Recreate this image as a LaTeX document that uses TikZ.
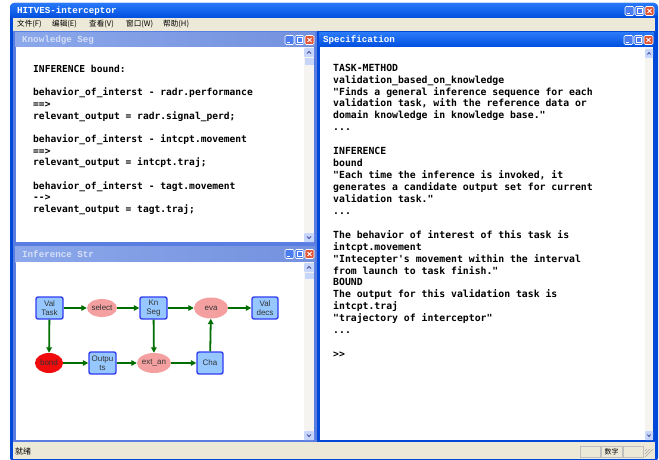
\documentclass[tikz,border=0pt]{standalone}
\usepackage{fontspec}
\setmonofont{DejaVu Sans Mono}
\newfontfamily\titlefont{Liberation Mono}
\newfontfamily\cjk{Noto Sans CJK SC}
\newfontfamily\diagfont{Liberation Sans}
\usetikzlibrary{shapes.geometric,arrows.meta}
\definecolor{xpframe}{RGB}{0,72,215}
\definecolor{titletop}{RGB}{40,120,248}
\definecolor{titlebot}{RGB}{0,78,222}
\definecolor{inactframe}{RGB}{90,125,225}
\definecolor{inacttop}{RGB}{140,168,235}
\definecolor{inactbot}{RGB}{115,145,222}
\definecolor{inacttext}{RGB}{214,224,246}
\definecolor{beige}{RGB}{236,233,216}
\definecolor{scrollbg}{RGB}{245,244,240}
\definecolor{scrollbtn}{RGB}{198,213,250}
\definecolor{boxfill}{RGB}{150,200,255}
\definecolor{boxdraw}{RGB}{50,60,240}
\definecolor{pinkfill}{RGB}{245,160,160}
\definecolor{redfill}{RGB}{240,12,12}
\definecolor{arrowgreen}{RGB}{0,110,0}
\definecolor{closered}{RGB}{225,85,55}
\definecolor{btnblue}{RGB}{75,125,238}
\newcommand\xpbuttons[2]{%
  \draw[white, line width=0.6pt, fill=btnblue, rounded corners=1.2pt] (#1-29,#2-4.5) rectangle (#1-20,#2+4.5);
  \draw[white, line width=1.2pt] (#1-27.5,#2+2.5) -- (#1-24.5,#2+2.5);
  \draw[white, line width=0.6pt, fill=btnblue, rounded corners=1.2pt] (#1-19,#2-4.5) rectangle (#1-10,#2+4.5);
  \draw[white, line width=0.7pt] (#1-17,#2-2.5) rectangle (#1-12,#2+2.5);
  \draw[white, line width=0.6pt, fill=closered, rounded corners=1.2pt] (#1-9,#2-4.5) rectangle (#1,#2+4.5);
  \draw[white, line width=0.9pt] (#1-6.5,#2-2) -- (#1-2.5,#2+2) (#1-6.5,#2+2) -- (#1-2.5,#2-2);
}
\newcommand\scrollup[3]{% x left, y top, width
  \fill[scrollbtn, rounded corners=1pt] (#1,#2) rectangle (#1+#3,#2+9);
  \draw[blue!50!black!70, line width=0.8pt] (#1+0.3*#3,#2+5.5) -- (#1+0.5*#3,#2+3.5) -- (#1+0.7*#3,#2+5.5);
}
\newcommand\scrolldown[3]{% x left, y bottom, width
  \fill[scrollbtn, rounded corners=1pt] (#1,#2-9) rectangle (#1+#3,#2);
  \draw[blue!50!black!70, line width=0.8pt] (#1+0.3*#3,#2-5.5) -- (#1+0.5*#3,#2-3.5) -- (#1+0.7*#3,#2-5.5);
}
\tikzset{
  codetext/.style={anchor=base west, inner sep=0pt, font=\fontsize{9.8}{11}\selectfont\ttfamily\bfseries},
  wintitle/.style={anchor=west, inner sep=0pt, font=\fontsize{9.2}{11}\selectfont\titlefont\bfseries},
  menutext/.style={anchor=west, inner sep=0pt, font=\fontsize{7.6}{9}\selectfont\cjk},
  procbox/.style={draw=boxdraw, line width=1.4pt, fill=boxfill, rounded corners=2pt,
    minimum width=27pt, minimum height=22pt, inner sep=0.5pt, align=center,
    font=\fontsize{8}{8.6}\selectfont\diagfont, text=black!80},
  infell/.style={ellipse, fill=pinkfill, inner sep=0pt,
    font=\fontsize{8}{8.6}\selectfont\diagfont, text=black!80},
  flow/.style={draw=arrowgreen, line width=1.8pt, -{Triangle[length=5.5pt,width=5.5pt]}}
}
\begin{document}
\begin{tikzpicture}[x=1pt,y=-1pt]
\useasboundingbox (0,0) rectangle (659,460);
\fill[white] (0,0) rectangle (659,460);
% main window
\fill[xpframe, rounded corners=4pt] (10,3) rectangle (658,462);
\shade[top color=titletop, bottom color=titlebot, rounded corners=4pt] (10,3) rectangle (658,18);
\node[wintitle, text=white] (maintitle) at (17,11) {HITVES-interceptor};
\xpbuttons{654}{11}
% menu bar
\fill[beige] (13,18) rectangle (655,31);
\node[menutext] (m1) at (17,24.5) {文件(F)};
\node[menutext] (m2) at (52,24.5) {编辑(E)};
\node[menutext] (m3) at (89,24.5) {查看(V)};
\node[menutext] (m4) at (126,24.5) {窗口(W)};
\node[menutext] (m5) at (163,24.5) {帮助(H)};
% status bar
\fill[beige] (13,442) rectangle (655,458.5);
\node[menutext, font=\fontsize{8}{9}\selectfont\cjk] (status) at (15,451) {就绪};
\draw[black!25] (580,446) rectangle (600,457);
\draw[black!25] (601,446) rectangle (622,457);
\draw[black!25] (623,446) rectangle (643,457);
\node[menutext, anchor=center, font=\fontsize{7}{8}\selectfont\cjk] (numlock) at (611.5,451.5) {数字};
\foreach \k in {0,3,6} \draw[black!35, line width=0.6pt] (653-\k,449) -- (645,457-\k);
% Knowledge Seg window
\fill[inactframe] (13,31) rectangle (317,244);
\shade[left color=inacttop, right color=inactbot] (15,33) rectangle (315,47);
\node[wintitle, text=inacttext] (kstitle) at (22,40) {Knowledge Seg};
\xpbuttons{314}{40}
\fill[white] (16,47) rectangle (304,242);
\fill[scrollbg] (304,47) rectangle (314,242);
\scrollup{304}{48}{10}
\fill[scrollbtn] (304.5,58) rectangle (313.5,65);
\scrolldown{304}{242}{10}
\foreach \n/\t in {0/{INFERENCE bound:},
  2/{behavior\_of\_interst - radr.performance}, 3/{==>}, 4/{relevant\_output = radr.signal\_perd;},
  6/{behavior\_of\_interst - intcpt.movement}, 7/{==>}, 8/{relevant\_output = intcpt.traj;},
  10/{behavior\_of\_interst - tagt.movement}, 11/{-->}, 12/{relevant\_output = tagt.traj;}}
  \node[codetext, font=\fontsize{9.6}{11}\selectfont\ttfamily\bfseries] (kn-\n) at (33,72.5+11.67*\n) {\t};
% Specification window
\fill[xpframe] (317,31) rectangle (656,442);
\shade[top color=titletop, bottom color=titlebot] (319,33) rectangle (654,47);
\node[wintitle, text=white] (sptitle) at (323,40) {Specification};
\xpbuttons{653}{40}
\fill[white] (320,47) rectangle (645,440);
\fill[scrollbg] (645,47) rectangle (653,440);
\scrollup{645}{49}{8}
\scrolldown{645}{440}{8}
\foreach \n/\t in {0/{TASK-METHOD}, 1/{validation\_based\_on\_knowledge},
  2/{"Finds a general inference sequence for each},
  3/{validation task, with the reference data or},
  4/{domain knowledge in knowledge base."}, 5/{...},
  7/{INFERENCE}, 8/{bound}, 9/{"Each time the inference is invoked, it},
  10/{generates a candidate output set for current}, 11/{validation task."}, 12/{...},
  14/{The behavior of interest of this task is}, 15/{intcpt.movement},
  16/{"Intecepter's movement within the interval}, 17/{from launch to task finish."},
  18/{BOUND}, 19/{The output for this validation task is}, 20/{intcpt.traj},
  21/{"trajectory of interceptor"}, 22/{...}, 24/{>>}}
  \node[codetext] (sp-\n) at (333,71.2+11.93*\n) {\t};
% Inference Str window
\fill[inactframe] (13,244) rectangle (317,442);
\shade[left color=inacttop, right color=inactbot] (15,246) rectangle (315,262);
\node[wintitle, text=inacttext] (istitle) at (22,254) {Inference Str};
\xpbuttons{314}{254}
\fill[white] (16,262) rectangle (304,440);
\fill[scrollbg] (304,262) rectangle (314,440);
\scrollup{304}{263}{10}
\fill[scrollbtn] (304.5,273) rectangle (313.5,279);
\scrolldown{304}{440}{10}
% diagram
\node[procbox] (valtask) at (49.5,308) {Val\\Task};
\node[infell, minimum width=30pt, minimum height=18pt] (select) at (102,308) {select};
\node[procbox] (knseg) at (153.5,308) {Kn\\Seg};
\node[infell, minimum width=34pt, minimum height=21pt] (eva) at (211,308) {eva};
\node[procbox, minimum width=26pt] (valdecs) at (265,308) {Val\\decs};
\node[infell, fill=redfill, minimum width=28pt, minimum height=20pt] (bond) at (49,363) {bond};
\node[procbox] (outputs) at (102.5,363) {Outpu\\ts};
\node[infell, minimum width=34pt, minimum height=20pt] (extan) at (154,363) {ext\_an};
\node[procbox, minimum width=26pt] (cha) at (210,363) {Cha};
\draw[flow] (valtask) -- (select);
\draw[flow] (select) -- (knseg);
\draw[flow] (knseg) -- (eva);
\draw[flow] (eva) -- (valdecs);
\draw[flow] (valtask) -- (bond);
\draw[flow] (bond) -- (outputs);
\draw[flow] (outputs) -- (extan);
\draw[flow] (knseg) -- (extan);
\draw[flow] (extan) -- (cha);
\draw[flow] (cha) -- (eva);
\end{tikzpicture}
\end{document}
